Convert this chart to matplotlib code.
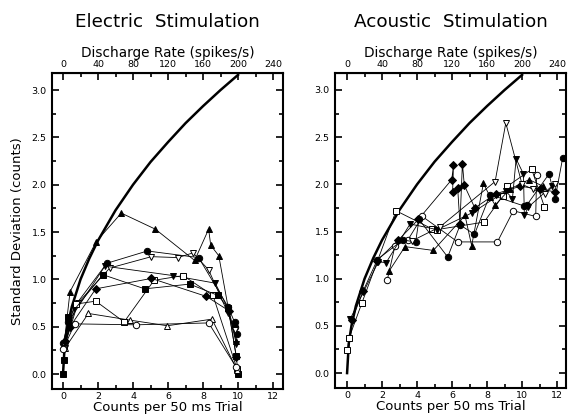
import numpy as np
import matplotlib
matplotlib.use("Agg")
import matplotlib.pyplot as plt
from matplotlib.ticker import MultipleLocator, FixedLocator

# 参考曲线 (读图得到的点)
curve_x = [0, 0.1, 0.25, 0.5, 1, 1.5, 2, 3, 4, 5, 6, 7, 8, 9, 10]
curve_y = [0, 0.32, 0.5, 0.71, 1.0, 1.22, 1.41, 1.73, 2.0, 2.24, 2.45, 2.65, 2.83, 3.0, 3.16]

# 刻度
count_ticks = [0, 2, 4, 6, 8, 10, 12]
count_minor = [1, 3, 5, 7, 9, 11]
rate_ticks = [0, 40, 80, 120, 160, 200, 240]
rate_minor = [20, 60, 100, 140, 180, 220]

# 电刺激 (左图)
elec_tri_up_x = [0.05, 0.4, 1.9, 3.33, 5.28, 7.52, 8.32, 8.44, 8.9, 9.43, 9.9]
elec_tri_up_y = [0.3, 0.87, 1.40, 1.70, 1.53, 1.20, 1.53, 1.36, 1.25, 0.71, 0.35]
elec_circ_x = [0.0, 0.3, 2.5, 4.82, 7.75, 9.43, 9.8, 9.85, 9.95]
elec_circ_y = [0.33, 0.55, 1.17, 1.30, 1.23, 0.71, 0.55, 0.5, 0.42]
elec_otri_dn_x = [0.1, 0.85, 2.67, 5.05, 6.57, 7.43, 8.32, 9.43, 9.8]
elec_otri_dn_y = [0.3, 0.75, 1.12, 1.24, 1.23, 1.28, 1.10, 0.64, 0.46]
elec_tri_dn_x = [0.1, 0.6, 2.38, 6.29, 8.7, 9.43, 9.9]
elec_tri_dn_y = [0.28, 0.7, 1.14, 1.04, 0.96, 0.69, 0.32]
elec_osq_x = [0.05, 0.76, 1.87, 3.49, 5.2, 6.86, 8.57, 9.95]
elec_osq_y = [0.27, 0.74, 0.77, 0.55, 0.99, 1.04, 0.83, 0.05]
elec_sq_x = [0.0, 0.05, 0.3, 2.27, 4.67, 7.24, 8.86, 9.43, 9.9, 10.0]
elec_sq_y = [0.0, 0.15, 0.6, 1.05, 0.90, 0.95, 0.83, 0.70, 0.19, 0.0]
elec_dia_x = [0.1, 0.4, 1.87, 5.05, 8.19, 9.47, 9.9]
elec_dia_y = [0.35, 0.5, 0.90, 1.01, 0.82, 0.67, 0.18]
elec_otri_up_x = [0.1, 1.45, 3.81, 5.96, 8.51, 9.96]
elec_otri_up_y = [0.27, 0.64, 0.57, 0.51, 0.58, 0.04]
elec_ocirc_x = [0.0, 0.67, 4.19, 8.32, 9.9]
elec_ocirc_y = [0.26, 0.53, 0.52, 0.54, 0.07]

# 声刺激 (右图)
acou_osq_x = [0.02, 0.11, 0.84, 2.8, 4.84, 5.12, 7.83, 8.9, 9.16, 10.55, 11.28]
acou_osq_y = [0.24, 0.37, 0.74, 1.72, 1.53, 1.52, 1.60, 1.88, 1.98, 2.16, 1.76]
acou_dia_x = [0.27, 0.93, 1.7, 2.93, 4.08, 5.98, 6.08, 6.03, 6.32, 6.45, 6.59, 6.7, 7.3, 8.5, 9.9, 11.0, 11.9]
acou_dia_y = [0.56, 0.875, 1.19, 1.41, 1.63, 2.05, 2.20, 1.92, 1.96, 1.58, 2.22, 1.99, 1.75, 1.90, 1.98, 1.95, 1.92]
acou_ocirc_x = [2.3, 2.74, 3.47, 4.3, 6.32, 8.59, 9.5, 10.78, 10.83]
acou_ocirc_y = [0.99, 1.35, 1.41, 1.66, 1.39, 1.39, 1.72, 1.66, 2.10]
acou_tri_up_x = [2.4, 3.31, 4.93, 6.74, 7.12, 7.79, 8.17, 8.46, 9.3, 10.4, 11.2]
acou_tri_up_y = [1.08, 1.34, 1.30, 1.67, 1.35, 2.01, 1.87, 1.78, 1.95, 2.05, 1.98]
acou_tri_dn_x = [0.17, 1.79, 2.23, 3.6, 5.16, 7.16, 9.07, 9.45, 9.66, 10.08, 10.13, 10.36, 11.7]
acou_tri_dn_y = [0.57, 1.18, 1.17, 1.58, 1.52, 1.70, 1.93, 1.85, 2.27, 2.11, 1.67, 1.76, 1.98]
acou_circ_x = [1.7, 3.18, 3.92, 4.11, 5.75, 6.46, 7.28, 8.17, 10.13, 10.27, 11.54, 11.89, 12.32]
acou_circ_y = [1.20, 1.41, 1.39, 1.63, 1.23, 1.57, 1.47, 1.89, 1.77, 1.78, 2.11, 1.85, 2.28]
acou_otri_dn_x = [3.7, 5.31, 8.46, 9.07, 10.0, 10.6, 11.3, 11.9]
acou_otri_dn_y = [1.40, 1.55, 2.03, 2.65, 2.0, 1.95, 1.90, 2.0]

elec_series = [
    (elec_tri_up_x, elec_tri_up_y, '^', 'k'),
    (elec_circ_x, elec_circ_y, 'o', 'k'),
    (elec_otri_dn_x, elec_otri_dn_y, 'v', 'w'),
    (elec_tri_dn_x, elec_tri_dn_y, 'v', 'k'),
    (elec_osq_x, elec_osq_y, 's', 'w'),
    (elec_sq_x, elec_sq_y, 's', 'k'),
    (elec_dia_x, elec_dia_y, 'D', 'k'),
    (elec_otri_up_x, elec_otri_up_y, '^', 'w'),
    (elec_ocirc_x, elec_ocirc_y, 'o', 'w'),
]
acou_series = [
    (acou_osq_x, acou_osq_y, 's', 'w'),
    (acou_dia_x, acou_dia_y, 'D', 'k'),
    (acou_ocirc_x, acou_ocirc_y, 'o', 'w'),
    (acou_tri_up_x, acou_tri_up_y, '^', 'k'),
    (acou_tri_dn_x, acou_tri_dn_y, 'v', 'k'),
    (acou_circ_x, acou_circ_y, 'o', 'k'),
    (acou_otri_dn_x, acou_otri_dn_y, 'v', 'w'),
]

fig = plt.figure(figsize=(5.69, 4.17), dpi=100)
ax1 = fig.add_axes([52/569, 1-389/417, (283-52)/569, (389-73)/417])
ax2 = fig.add_axes([335/569, 1-388/417, (566-335)/569, (388-73)/417])


def setup(ax, title, xlim):
    ax.plot(curve_x, curve_y, color='k', lw=1.8, zorder=1)
    ax.set_xlim(*xlim)
    ax.set_ylim(-0.158, 3.18)
    ax.xaxis.set_major_locator(FixedLocator(count_ticks))
    ax.xaxis.set_minor_locator(FixedLocator(count_minor))
    ax.yaxis.set_major_locator(MultipleLocator(0.5))
    ax.yaxis.set_minor_locator(MultipleLocator(0.25))
    ax.yaxis.set_major_formatter(matplotlib.ticker.FormatStrFormatter('%.1f'))
    ax.tick_params(which='both', direction='in', right=True, top=False,
                   labelsize=6.8, width=1.2)
    ax.tick_params(axis='x', pad=2.5)
    ax.tick_params(axis='y', pad=4)
    ax.tick_params(which='major', length=5)
    ax.tick_params(which='minor', length=3)
    for s in ax.spines.values():
        s.set_linewidth(1.5)
    ax.set_xlabel('Counts per 50 ms Trial', fontsize=9.5, labelpad=0)
    sec = ax.secondary_xaxis('top', functions=(lambda x: x*20, lambda r: r/20))
    sec.xaxis.set_major_locator(FixedLocator(rate_ticks))
    sec.xaxis.set_minor_locator(FixedLocator(rate_minor))
    sec.tick_params(which='both', direction='in', labelsize=6.8, width=1.2, pad=3)
    sec.tick_params(which='major', length=5)
    sec.tick_params(which='minor', length=3)
    sec.set_xlabel('Discharge Rate (spikes/s)', fontsize=9.8, labelpad=2)
    ax.set_title(title, fontsize=13.2, pad=33)


setup(ax1, 'Electric  Stimulation', (-0.63, 12.57))
setup(ax2, 'Acoustic  Stimulation', (-0.69, 12.51))
ax1.set_ylabel('Standard Deviation (counts)', fontsize=9.5, labelpad=5)

for ax, series in [(ax1, elec_series), (ax2, acou_series)]:
    for xs, ys, m, fc in series:
        ms = 3.6 if m == 'D' else 4.6
        ax.plot(xs, ys, color='k', lw=0.6, marker=m, ms=ms,
                mfc=fc, mec='k', mew=0.7, zorder=2)

fig.savefig('out.png', dpi=100)
